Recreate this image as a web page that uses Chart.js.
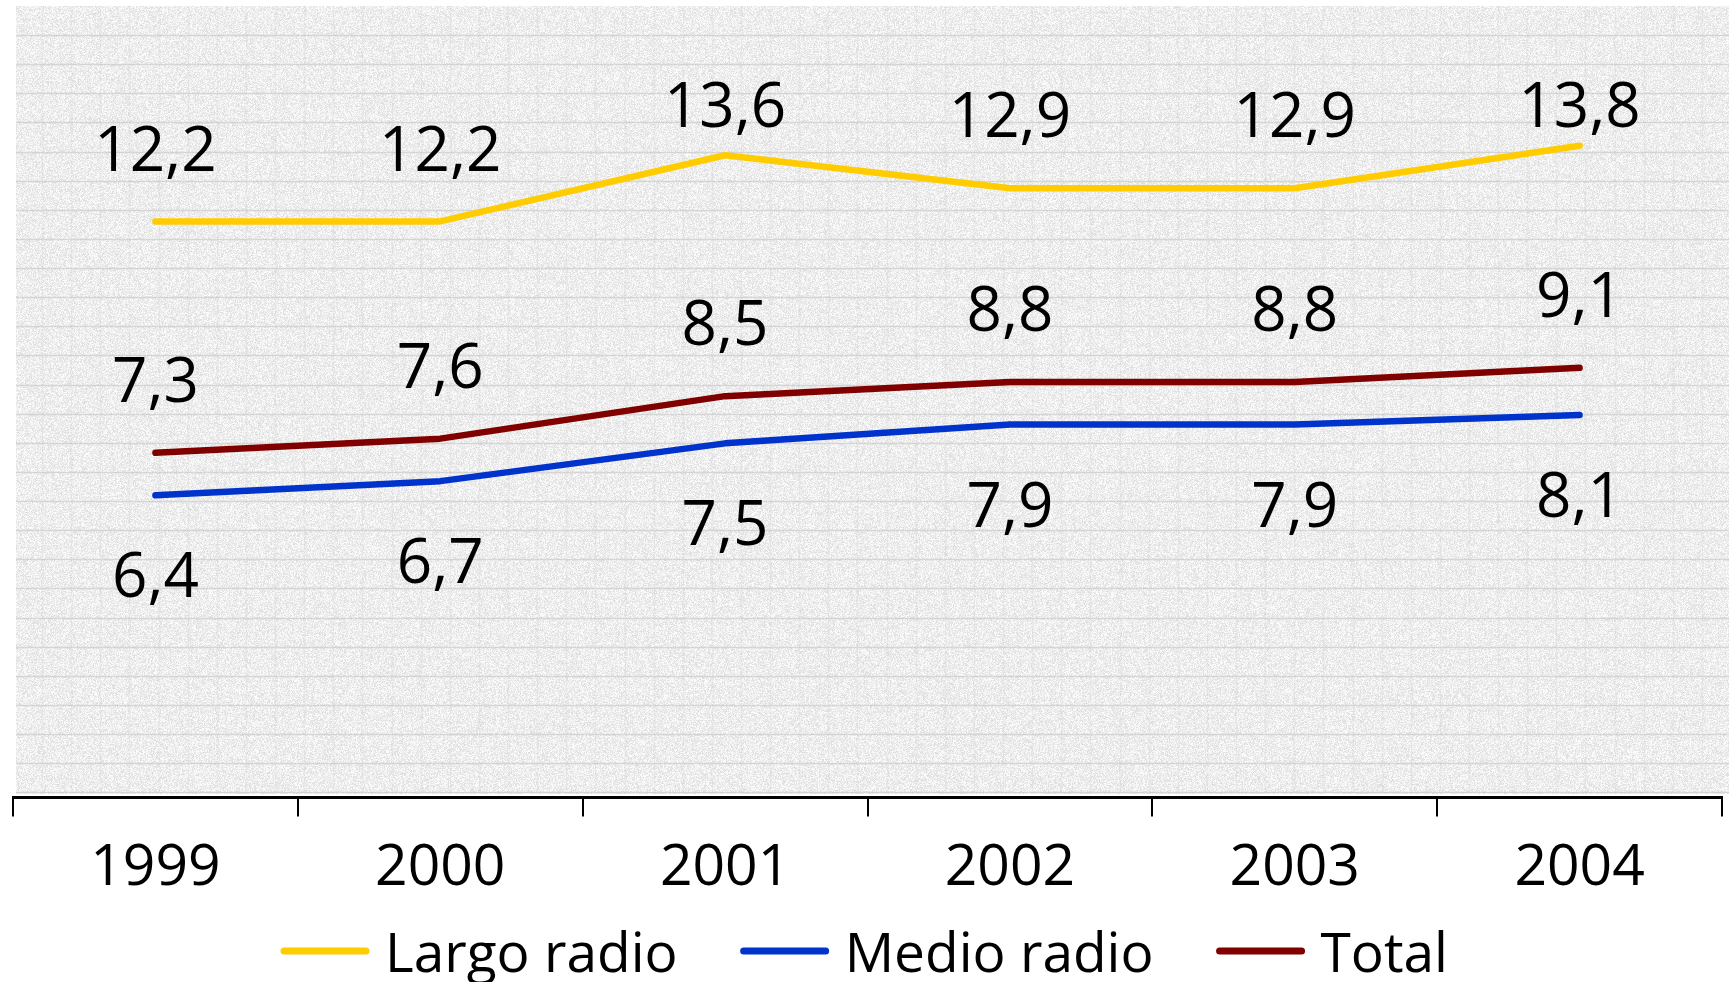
<!DOCTYPE html>
<html>
<head>
<meta charset="utf-8">
<script src="https://cdn.jsdelivr.net/npm/chart.js@4"></script>
<style>
html, body { margin: 0; padding: 0; background: #ffffff; }
#wrap { width: 1729px; height: 982px; }
</style>
</head>
<body>
<div id="wrap"><canvas id="c" width="1729" height="982"></canvas></div>
<script>
// ---- data ----
const years = ['1999', '2000', '2001', '2002', '2003', '2004'];
const largoRadio = [12.2, 12.2, 13.6, 12.9, 12.9, 13.8];
const medioRadio = [6.4, 6.7, 7.5, 7.9, 7.9, 8.1];
const total = [7.3, 7.6, 8.5, 8.8, 8.8, 9.1];
const seriesNames = ['Largo radio', 'Medio radio', 'Total'];

// ---- style ----
const seriesColors = ['#FFCC00', '#0033CC', '#800000'];
const labelSide = ['above', 'below', 'above'];
const FONT = '"Open Sans", "Noto Sans", sans-serif';

function fmt(v) { return v.toFixed(1).replace('.', ','); }

let textureCanvas = null;
function makeTexture(w, h) {
  const cv = document.createElement('canvas');
  cv.width = w; cv.height = h;
  const g = cv.getContext('2d');
  const img = g.createImageData(w, h);
  const d = img.data;
  for (let y = 0; y < h; y++) {
    for (let x = 0; x < w; x++) {
      let s = Math.sin(x * 12.9898 + y * 78.233) * 43758.5453;
      s -= Math.floor(s);
      const v = Math.round(221 + s * 34);
      const i = (y * w + x) * 4;
      d[i] = v; d[i + 1] = v; d[i + 2] = v; d[i + 3] = 255;
    }
  }
  g.putImageData(img, 0, 0);
  return cv;
}

const texturePlugin = {
  id: 'texture',
  beforeDraw(chart) {
    const ca = chart.chartArea;
    const ctx = chart.ctx;
    const x0 = ca.left + 3, y0 = ca.top, x1 = chart.width, y1 = ca.bottom - 4;
    const w = x1 - x0, h = y1 - y0;
    if (!textureCanvas) textureCanvas = makeTexture(Math.ceil(w), Math.ceil(h));
    ctx.save();
    ctx.drawImage(textureCanvas, x0, y0);
    ctx.beginPath();
    ctx.rect(x0, y0, w, h);
    ctx.clip();
    const step = 29.12;
    ctx.strokeStyle = 'rgba(205,205,205,0.22)';
    ctx.lineWidth = 1.5;
    for (let x = ca.left + step; x < x1; x += step) {
      ctx.beginPath(); ctx.moveTo(Math.round(x) + 0.5, y0); ctx.lineTo(Math.round(x) + 0.5, y1); ctx.stroke();
    }
    ctx.strokeStyle = 'rgba(203,203,203,0.7)';
    ctx.lineWidth = 1.5;
    for (let y = y0 + step; y < y1; y += step) {
      ctx.beginPath(); ctx.moveTo(x0, Math.round(y) + 0.5); ctx.lineTo(x1, Math.round(y) + 0.5); ctx.stroke();
    }
    ctx.restore();
  }
};

const dataLabelPlugin = {
  id: 'dataLabels',
  afterDatasetsDraw(chart) {
    const ctx = chart.ctx;
    const ca = chart.chartArea;
    const size = 62;
    ctx.save();
    ctx.font = size + 'px ' + FONT;
    ctx.fillStyle = '#000000';
    ctx.textAlign = 'center';
    ctx.textBaseline = 'alphabetic';
    chart.data.datasets.forEach((ds, di) => {
      const meta = chart.getDatasetMeta(di);
      meta.data.forEach((pt, i) => {
        let cy;
        if (labelSide[di] === 'above') {
          cy = Math.max(pt.y - 73, ca.top + 99);
        } else {
          cy = pt.y + 80;
        }
        ctx.fillText(fmt(ds.data[i]), pt.x, cy + size * 0.357);
      });
    });
    ctx.restore();
  }
};

const legendPlugin = {
  id: 'customLegend',
  afterDraw(chart) {
    const ctx = chart.ctx;
    const size = 55;
    const lineLen = 88, textGap = 16, itemGap = 63;
    const cy = chart.height - 31;
    ctx.save();
    ctx.font = size + 'px ' + FONT;
    const items = chart.data.datasets.map(ds => ({
      text: ds.label, color: ds.borderColor, w: ctx.measureText(ds.label).width
    }));
    let totalW = 0;
    items.forEach((it, i) => { totalW += lineLen + textGap + it.w + (i ? itemGap : 0); });
    let x = chart.width / 2 - totalW / 2;
    items.forEach(it => {
      ctx.strokeStyle = it.color;
      ctx.lineWidth = 7;
      ctx.lineCap = 'round';
      ctx.beginPath(); ctx.moveTo(x + 3, cy); ctx.lineTo(x + lineLen - 3, cy); ctx.stroke();
      ctx.fillStyle = '#000000';
      ctx.textAlign = 'left';
      ctx.textBaseline = 'alphabetic';
      ctx.fillText(it.text, x + lineLen + textGap, cy + 58 * 0.357);
      x += lineLen + textGap + it.w + itemGap;
    });
    ctx.restore();
  }
};

const seriesData = [largoRadio, medioRadio, total];

new Chart(document.getElementById('c'), {
  type: 'line',
  data: {
    labels: years,
    datasets: seriesData.map((arr, i) => ({
      label: seriesNames[i],
      data: arr,
      borderColor: seriesColors[i],
      backgroundColor: seriesColors[i],
      borderWidth: 6.5,
      borderCapStyle: 'round',
      borderJoinStyle: 'round',
      pointRadius: 0,
      pointHoverRadius: 0,
      tension: 0,
      fill: false
    }))
  },
  options: {
    responsive: false,
    animation: false,
    devicePixelRatio: 1,
    layout: { padding: { top: 6, left: 13, right: 7, bottom: 61 } },
    plugins: {
      legend: { display: false },
      tooltip: { enabled: false },
      title: { display: false }
    },
    scales: {
      x: {
        offset: true,
        grid: {
          display: true, offset: true, drawOnChartArea: false, drawTicks: true,
          tickLength: 19, color: '#000000', lineWidth: 2
        },
        border: { display: true, color: '#000000', width: 3 },
        ticks: {
          color: '#000000', font: { family: FONT, size: 57 }, padding: 18,
          maxRotation: 0, autoSkip: false
        }
      },
      y: { display: false, min: 0, max: 16.76 }
    }
  },
  plugins: [texturePlugin, dataLabelPlugin, legendPlugin]
});
</script>
</body>
</html>
